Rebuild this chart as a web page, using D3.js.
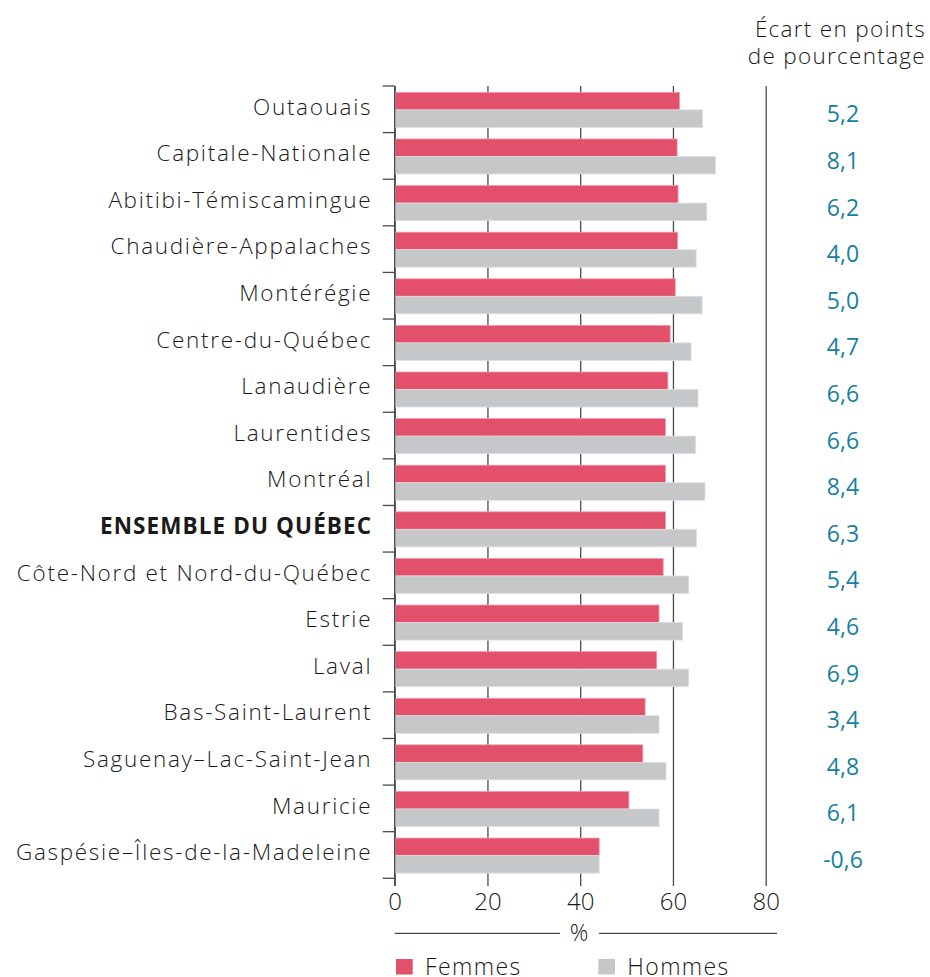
<!DOCTYPE html>
<html><head><meta charset="utf-8">
<script src="https://cdn.jsdelivr.net/npm/d3@7"></script>
<style>
html,body{margin:0;padding:0;background:#fff;}
svg{display:block;}
text{font-family:"Open Sans","Lato",sans-serif;font-weight:300;}
</style></head>
<body>
<svg id="chart" width="930" height="977"></svg>
<script>
const regions = ["Outaouais","Capitale-Nationale","Abitibi-Témiscamingue","Chaudière-Appalaches","Montérégie","Centre-du-Québec","Lanaudière","Laurentides","Montréal","ENSEMBLE DU QUÉBEC","Côte-Nord et Nord-du-Québec","Estrie","Laval","Bas-Saint-Laurent","Saguenay–Lac-Saint-Jean","Mauricie","Gaspésie–Îles-de-la-Madeleine"];
const femmes = [61.4,60.9,61.1,61.0,60.5,59.4,58.9,58.4,58.4,58.4,57.9,57.0,56.5,54.0,53.5,50.5,44.1];
const hommes = [66.4,69.2,67.3,65.0,66.3,63.9,65.4,64.9,66.9,65.1,63.4,62.1,63.4,57.0,58.5,57.0,44.1];
const ecarts = ["5,2","8,1","6,2","4,0","5,0","4,7","6,6","6,6","8,4","6,3","5,4","4,6","6,9","3,4","4,8","6,1","-0,6"];
const xTicks = [0,20,40,60,80];
const seriesNames = ["Femmes","Hommes"];
const colors = {Femmes:"#e2506b", Hommes:"#c6c7c9"};
const strokes = {Femmes:"#f29aab", Hommes:"#dedfe0"};

const svg = d3.select("#chart");
const x = d3.scaleLinear().domain([0,80]).range([394.7,765.7]);
const y = d3.scaleBand().domain(regions).range([86,878.3]).padding(0);
const ySub = d3.scaleBand().domain(seriesNames).range([0,y.bandwidth()]).paddingOuter(0.33).paddingInner(0).align(0.55);

// vertical grid + bottom ticks
const xAxis = d3.axisBottom(x).tickValues(xTicks).tickSizeInner(-800).tickSizeOuter(0).tickPadding(7).tickFormat(d3.format("d"));
const gx = svg.append("g").attr("transform","translate(0,886)").call(xAxis);
gx.select(".domain").remove();
gx.selectAll(".tick line").attr("stroke","#4a4a4a").attr("stroke-width",1.3);
gx.selectAll(".tick text").attr("fill","#1a1a1a").style("font-size","24px")
  .style("font-family","'Open Sans', sans-serif").style("font-weight","300").attr("dy","0.72em");

// category boundary ticks on the left
const bounds = regions.map(r => y(r)).concat([y.range()[1]]);
svg.append("g").selectAll("line").data(bounds).join("line")
  .attr("x1",x(0)-12).attr("x2",x(0)).attr("y1",d=>d).attr("y2",d=>d)
  .attr("stroke","#4a4a4a").attr("stroke-width",1.3);

// bars
const rows = regions.map((r,i)=>({region:r, Femmes:femmes[i], Hommes:hommes[i]}));
const gRows = svg.append("g").selectAll("g").data(rows).join("g")
  .attr("transform",d=>`translate(0,${y(d.region)})`);
gRows.selectAll("rect").data(d=>seriesNames.map(s=>({s, v:d[s]}))).join("rect")
  .attr("x",x(0)+0.7).attr("y",d=>ySub(d.s)).attr("height",ySub.bandwidth())
  .attr("width",d=>x(d.v)-x(0)-0.7)
  .attr("fill",d=>colors[d.s]).attr("stroke",d=>strokes[d.s]).attr("stroke-width",0.8);

// axis line at 0 drawn over bars
svg.append("line").attr("x1",x(0)).attr("x2",x(0)).attr("y1",86).attr("y2",886)
  .attr("stroke","#4a4a4a").attr("stroke-width",1.3);

// category labels
const yAxis = d3.axisLeft(y).tickSize(0).tickPadding(22.5);
const gy = svg.append("g").attr("transform",`translate(${x(0)},-2)`).call(yAxis);
gy.select(".domain").remove();
gy.selectAll(".tick text").attr("fill","#1a1a1a").style("font-size","22.5px")
  .style("font-family","'Open Sans', sans-serif")
  .style("letter-spacing",d=>d==="ENSEMBLE DU QUÉBEC"?"1.1px":"1.7px")
  .style("font-weight",d=>d==="ENSEMBLE DU QUÉBEC"?"700":"300");

// gap labels
svg.append("g").selectAll("text").data(regions).join("text")
  .attr("x",843).attr("y",(d)=>y(d)+y.bandwidth()/2+4)
  .attr("text-anchor","middle").attr("dominant-baseline","central")
  .attr("fill","#18809f").style("font-size","23px").style("font-weight","400")
  .text((d,i)=>ecarts[i]);

// header
const hdr = svg.append("text").attr("text-anchor","end").attr("fill","#1a1a1a").style("font-size","22.5px").style("letter-spacing","1.3px");
hdr.append("tspan").attr("x",926).attr("y",37).text("Écart en points");
hdr.append("tspan").attr("x",926).attr("y",64).text("de pourcentage");

// % axis title with lines
svg.append("line").attr("x1",394.7).attr("x2",560).attr("y1",933.3).attr("y2",933.3).attr("stroke","#4a4a4a").attr("stroke-width",1.3);
svg.append("line").attr("x1",599).attr("x2",777).attr("y1",933.3).attr("y2",933.3).attr("stroke","#4a4a4a").attr("stroke-width",1.3);
svg.append("text").attr("x",579).attr("y",932).attr("text-anchor","middle").attr("dominant-baseline","central")
  .attr("fill","#1a1a1a").style("font-size","23px").text("%");

// legend
const legX = [396,598.3];
const leg = svg.append("g").selectAll("g").data(seriesNames).join("g")
  .attr("transform",(d,i)=>`translate(${legX[i]},959)`);
leg.append("rect").attr("width",16.7).attr("height",15.5).attr("fill",d=>colors[d]);
leg.append("text").attr("x",29).attr("y",16).attr("fill","#1a1a1a").style("font-size","23px").style("letter-spacing","1.4px").text(d=>d);
</script>
</body></html>
